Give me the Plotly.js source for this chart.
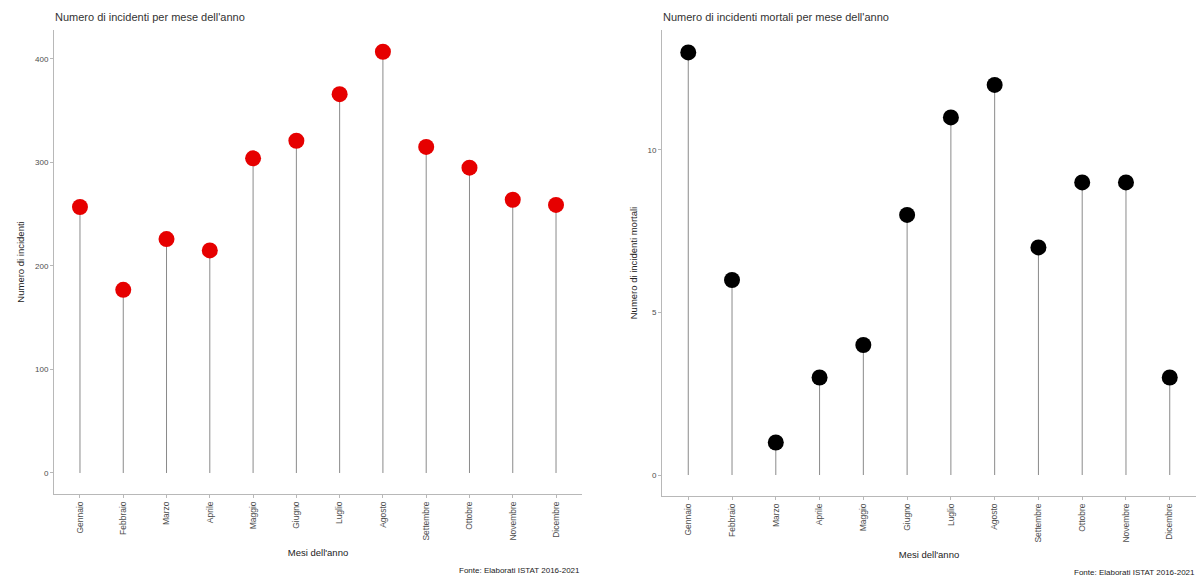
<!DOCTYPE html>
<html>
<head>
<meta charset="utf-8">
<script src="https://cdn.plot.ly/plotly-3.0.1.min.js"></script>
<style>html,body{margin:0;padding:0;background:#fff;}#chart{width:1199px;height:581px;}</style>
</head>
<body>
<div id="chart"></div>
<script>
const mesi = ["Gennaio","Febbraio","Marzo","Aprile","Maggio","Giugno","Luglio","Agosto","Settembre","Ottobre","Novembre","Dicembre"];
const incidenti = [257, 177, 226, 215, 304, 321, 366, 407, 315, 295, 264, 259];
const incidentiMortali = [13, 6, 1, 3, 4, 8, 11, 12, 7, 9, 9, 3];
const titoloSx = "Numero di incidenti per mese dell'anno";
const titoloDx = "Numero di incidenti mortali per mese dell'anno";
const fonte = "Fonte: Elaborati ISTAT 2016-2021";

function stems(vals){
  const xs = [], ys = [];
  mesi.forEach((m,i)=>{ xs.push(m,m,null); ys.push(0,vals[i],null); });
  return {x:xs, y:ys};
}
const s1 = stems(incidenti), s2 = stems(incidentiMortali);
const font = "Liberation Sans, Arial, sans-serif";
const traces = [
  {x:s1.x, y:s1.y, mode:'lines', line:{color:'#8a8a8a', width:1}, xaxis:'x', yaxis:'y', hoverinfo:'skip', showlegend:false},
  {x:mesi, y:incidenti, mode:'markers', marker:{color:'#e60000', size:16}, xaxis:'x', yaxis:'y', showlegend:false},
  {x:s2.x, y:s2.y, mode:'lines', line:{color:'#8a8a8a', width:1}, xaxis:'x2', yaxis:'y2', hoverinfo:'skip', showlegend:false},
  {x:mesi, y:incidentiMortali, mode:'markers', marker:{color:'#000000', size:16}, xaxis:'x2', yaxis:'y2', showlegend:false}
];
const xcommon = {type:'category', categoryorder:'array', categoryarray:mesi, range:[-0.6, 11.6],
  showline:true, linecolor:'#b8b8b8', linewidth:1, ticks:'outside', ticklen:3, tickcolor:'#b8b8b8',
  tickangle:-90, tickfont:{size:8.5, color:'#4d4d4d', family:font}, showgrid:false, zeroline:false,
  title:{text:"Mesi dell'anno", font:{size:9.5, color:'#222', family:font}, standoff:9}};
const ycommon = {showline:true, linecolor:'#b8b8b8', linewidth:1, ticks:'outside', ticklen:3, tickcolor:'#b8b8b8',
  tickfont:{size:8, color:'#4d4d4d', family:font}, showgrid:false, zeroline:false};
const layout = {
  width:1199, height:581, margin:{l:0, r:0, t:0, b:0}, paper_bgcolor:'#fff', plot_bgcolor:'#fff',
  font:{family:font},
  xaxis: Object.assign({}, xcommon, {domain:[54/1199, 582/1199], anchor:'y'}),
  xaxis2: Object.assign({}, xcommon, {domain:[662/1199, 1196/1199], anchor:'y2'}),
  yaxis: Object.assign({}, ycommon, {domain:[1-494/581, 1-30/581], anchor:'x', range:[-20.3, 428],
    tickvals:[0,100,200,300,400],
    title:{text:"Numero di incidenti", font:{size:9.5, color:'#222', family:font}, standoff:8}}),
  yaxis2: Object.assign({}, ycommon, {domain:[1-496/581, 1-30/581], anchor:'x2', range:[-0.646, 13.69],
    tickvals:[0,5,10],
    title:{text:"Numero di incidenti mortali", font:{size:9.5, color:'#222', family:font}, standoff:8}}),
  annotations:[
    {text:titoloSx, xref:'paper', yref:'paper', x:53/1199, y:1-17/581, xanchor:'left', yanchor:'middle', showarrow:false, font:{size:11, color:'#333', family:font}},
    {text:titoloDx, xref:'paper', yref:'paper', x:661/1199, y:1-17/581, xanchor:'left', yanchor:'middle', showarrow:false, font:{size:11, color:'#333', family:font}},
    {text:fonte, xref:'paper', yref:'paper', x:582/1199, y:1-570/581, xanchor:'right', yanchor:'middle', showarrow:false, font:{size:8, color:'#222', family:font}},
    {text:fonte, xref:'paper', yref:'paper', x:1197/1199, y:1-572/581, xanchor:'right', yanchor:'middle', showarrow:false, font:{size:8, color:'#222', family:font}}
  ]
};
Plotly.newPlot('chart', traces, layout, {staticPlot:true, displayModeBar:false});
</script>
</body>
</html>
